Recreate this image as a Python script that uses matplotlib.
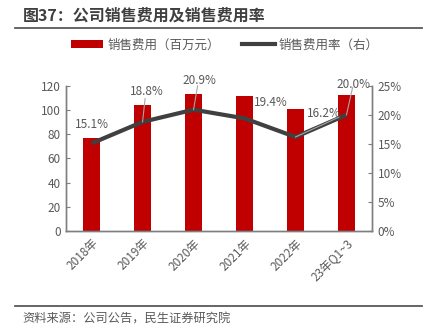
import matplotlib
matplotlib.use("Agg")
import matplotlib.pyplot as plt
from matplotlib.lines import Line2D
from matplotlib.patches import Patch

plt.rcParams['font.family'] = ['Noto Sans CJK SC', 'DejaVu Sans']

# ── Data ──────────────────────────────────────────────────────────────────────
categories = ["2018年", "2019年", "2020年", "2021年", "2022年", "23年Q1~3"]
sales_expense = [77, 104, 113, 111.5, 101, 112.5]      # 百万元
expense_rate = [15.1, 18.8, 20.9, 19.4, 16.2, 20.0]    # %

BAR_COLOR = "#C00000"
LINE_COLOR = "#404040"
TEXT_COLOR = "#595959"
AXIS_COLOR = "#7f7f7f"

fig = plt.figure(figsize=(4.32, 3.34), dpi=100)
ax = fig.add_axes([0.153, 0.308, 0.708, 0.435])
ax2 = ax.twinx()

x = list(range(len(categories)))
ax.bar(x, sales_expense, width=0.34, color=BAR_COLOR, zorder=2)
ax2.plot(x, expense_rate, color=LINE_COLOR, lw=3, solid_capstyle="butt", zorder=3)

ax.set_xlim(-0.5, len(categories) - 0.5)
ax.set_ylim(0, 120)
ax.set_yticks(range(0, 121, 20))
ax2.set_ylim(0, 25)
ax2.set_yticks(range(0, 26, 5))
ax2.set_yticklabels([f"{v}%" for v in range(0, 26, 5)])

ax.set_xticks(x)
ax.set_xticklabels(categories, rotation=45, ha="right", va="top",
                   rotation_mode="anchor")

for a in (ax, ax2):
    a.spines["top"].set_visible(False)
    for s in ("left", "right", "bottom"):
        a.spines[s].set_color(AXIS_COLOR)
        a.spines[s].set_linewidth(1.0)
    a.tick_params(axis="y", direction="in", length=3, color=AXIS_COLOR,
                  labelsize=8.5, labelcolor=TEXT_COLOR, pad=4)
ax.tick_params(axis="x", length=0, labelsize=8.5, labelcolor=TEXT_COLOR, pad=4)
ax.set_zorder(1)
ax2.set_zorder(2)
ax.patch.set_visible(False)

# ── Data labels on the rate line ─────────────────────────────────────────────
# (label x, label y, draw leader)
label_pos = [(0.0, 18.3, False), (1.09, 24.0, True), (2.11, 26.0, True),
             (3.52, 22.1, False), (4.56, 20.2, True), (5.13, 25.3, True)]
leader_end = [None, (1.05, 22.8), (2.08, 25.0), None, (4.85, 19.6), (5.12, 24.7)]
for i, (v, (lx, ly, lead)) in enumerate(zip(expense_rate, label_pos)):
    ax2.text(lx, ly, f"{v:.1f}%", ha="center", va="center", fontsize=8.5,
             color=TEXT_COLOR, zorder=5, clip_on=False)
    if lead:
        ex, ey = leader_end[i]
        ax2.plot([i, ex], [v, ey], color="#a6a6a6", lw=0.8, zorder=4,
                 clip_on=False)

# ── Legend ────────────────────────────────────────────────────────────────────
handles = [Patch(facecolor=BAR_COLOR), Line2D([], [], color=LINE_COLOR, lw=3)]
fig.legend(handles, ["销售费用（百万元）", "销售费用率（右）"], ncol=2,
           loc="center", bbox_to_anchor=(0.52, 0.865), frameon=False,
           fontsize=9, labelcolor=TEXT_COLOR, handlelength=2.6,
           handleheight=0.6, handletextpad=0.3, columnspacing=1.8)

# ── Title & footer ────────────────────────────────────────────────────────────
fig.text(0.053, 0.952, "图37：公司销售费用及销售费用率", fontsize=11.5,
         fontweight="bold", color="#404040", va="center", ha="left")
fig.add_artist(Line2D([0.035, 0.977], [0.915, 0.915], color="#595959", lw=1.3))
fig.add_artist(Line2D([0.035, 0.977], [0.085, 0.085], color="#595959", lw=1.3))
fig.text(0.053, 0.045, "资料来源：公司公告，民生证券研究院", fontsize=8.8,
         color=TEXT_COLOR, va="center", ha="left")

fig.savefig("out.png", dpi=100, facecolor="white")
